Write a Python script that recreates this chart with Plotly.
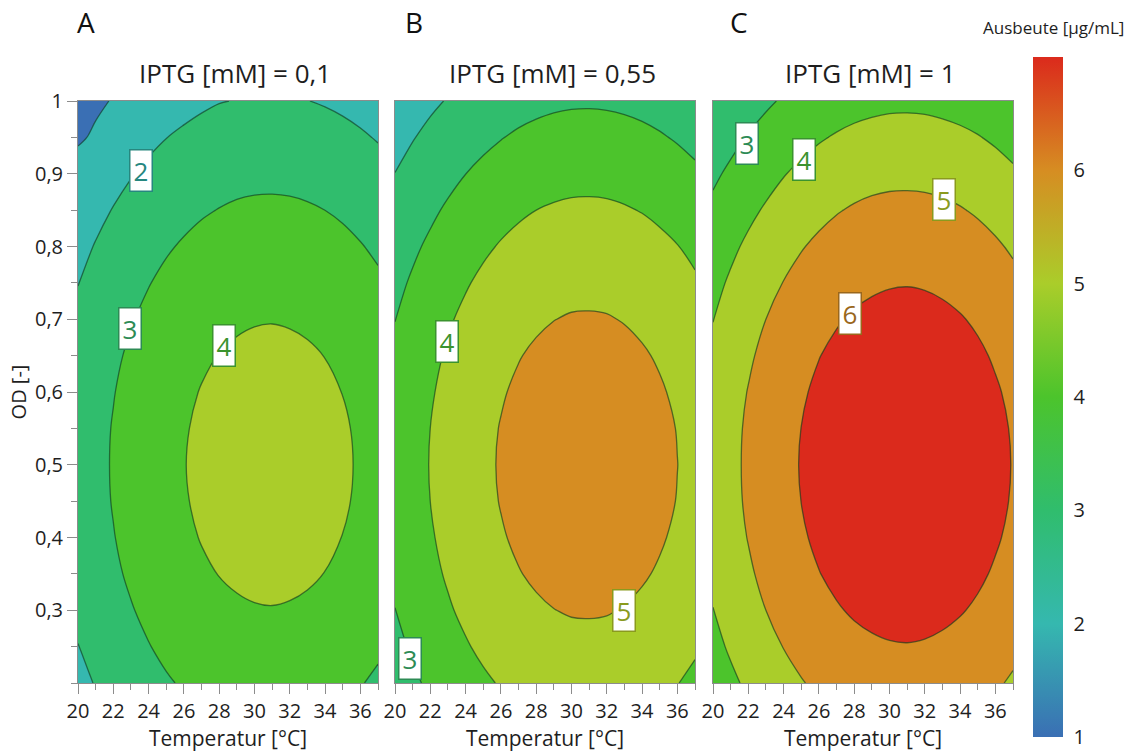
import plotly.graph_objects as go

# Grid of the response surface (temperature in degC, optical density)
temperature = [20, 21, 22, 23, 24, 25, 26, 27, 28, 29, 30, 31, 32, 33, 34, 35, 36, 37]
od = [0.2, 0.25, 0.3, 0.35, 0.4, 0.45, 0.5, 0.55, 0.6, 0.65, 0.7, 0.75, 0.8, 0.85, 0.9, 0.95, 1.0]

# Predicted yield [ug/mL]; one row per OD value (0.20 ... 1.00), one column per temperature
yield_iptg_01 = [
    [1.78, 2.04, 2.28, 2.52, 2.73, 2.92, 3.08, 3.22, 3.33, 3.41, 3.45, 3.46, 3.44, 3.39, 3.30, 3.19, 3.04, 2.87],
    [1.985, 2.25, 2.51, 2.75, 2.97, 3.17, 3.34, 3.49, 3.60, 3.68, 3.73, 3.74, 3.72, 3.66, 3.57, 3.45, 3.30, 3.12],
    [2.16, 2.44, 2.70, 2.95, 3.18, 3.39, 3.57, 3.71, 3.83, 3.91, 3.96, 3.976, 3.95, 3.90, 3.80, 3.68, 3.52, 3.34],
    [2.30, 2.58, 2.86, 3.12, 3.35, 3.56, 3.74, 3.90, 4.015, 4.10, 4.15, 4.16, 4.14, 4.08, 3.99, 3.86, 3.70, 3.51],
    [2.40, 2.69, 2.97, 3.23, 3.47, 3.69, 3.87, 4.03, 4.15, 4.24, 4.29, 4.30, 4.28, 4.22, 4.12, 3.99, 3.83, 3.63],
    [2.46, 2.76, 3.04, 3.31, 3.55, 3.76, 3.95, 4.11, 4.23, 4.32, 4.37, 4.38, 4.36, 4.30, 4.20, 4.07, 3.91, 3.71],
    [2.48, 2.78, 3.06, 3.33, 3.57, 3.79, 3.98, 4.13, 4.26, 4.35, 4.40, 4.41, 4.39, 4.33, 4.23, 4.10, 3.93, 3.74],
    [2.46, 2.76, 3.04, 3.31, 3.55, 3.76, 3.95, 4.11, 4.23, 4.32, 4.37, 4.38, 4.36, 4.30, 4.20, 4.07, 3.91, 3.71],
    [2.40, 2.69, 2.97, 3.23, 3.47, 3.69, 3.87, 4.03, 4.15, 4.24, 4.29, 4.30, 4.28, 4.22, 4.12, 3.99, 3.83, 3.63],
    [2.30, 2.58, 2.86, 3.12, 3.35, 3.56, 3.74, 3.90, 4.015, 4.10, 4.15, 4.16, 4.14, 4.08, 3.99, 3.86, 3.70, 3.51],
    [2.16, 2.44, 2.70, 2.95, 3.18, 3.39, 3.57, 3.71, 3.83, 3.91, 3.96, 3.976, 3.95, 3.90, 3.80, 3.68, 3.52, 3.34],
    [1.985, 2.25, 2.51, 2.75, 2.97, 3.17, 3.34, 3.49, 3.60, 3.68, 3.73, 3.74, 3.72, 3.66, 3.57, 3.45, 3.30, 3.12],
    [1.78, 2.04, 2.28, 2.52, 2.73, 2.92, 3.08, 3.22, 3.33, 3.41, 3.45, 3.46, 3.44, 3.39, 3.30, 3.19, 3.04, 2.87],
    [1.56, 1.80, 2.03, 2.25, 2.45, 2.63, 2.79, 2.92, 3.02, 3.10, 3.14, 3.15, 3.13, 3.08, 2.999, 2.89, 2.75, 2.59],
    [1.32, 1.54, 1.76, 1.96, 2.15, 2.32, 2.47, 2.59, 2.69, 2.76, 2.80, 2.81, 2.79, 2.74, 2.66, 2.56, 2.43, 2.28],
    [0.90, 1.10, 1.38, 1.66, 1.83, 1.99, 2.12, 2.24, 2.33, 2.40, 2.43, 2.44, 2.43, 2.38, 2.31, 2.21, 2.09, 1.95],
    [0.70, 0.88, 1.04, 1.35, 1.51, 1.65, 1.77, 1.88, 1.975, 2.02, 2.06, 2.07, 2.05, 2.01, 1.94, 1.85, 1.74, 1.61],
]
yield_iptg_055 = [
    [2.56, 2.86, 3.14, 3.41, 3.66, 3.87, 4.06, 4.22, 4.34, 4.43, 4.48, 4.49, 4.47, 4.41, 4.31, 4.18, 4.02, 3.82],
    [2.79, 3.10, 3.40, 3.68, 3.93, 4.16, 4.36, 4.52, 4.64, 4.74, 4.79, 4.80, 4.78, 4.72, 4.62, 4.48, 4.31, 4.10],
    [2.989, 3.31, 3.62, 3.91, 4.17, 4.40, 4.60, 4.77, 4.90, 4.99, 5.05, 5.06, 5.04, 4.97, 4.87, 4.73, 4.55, 4.34],
    [3.15, 3.48, 3.80, 4.09, 4.36, 4.59, 4.80, 4.97, 5.10, 5.20, 5.25, 5.27, 5.24, 5.18, 5.07, 4.93, 4.75, 4.53],
    [3.26, 3.60, 3.92, 4.22, 4.49, 4.73, 4.94, 5.11, 5.25, 5.35, 5.40, 5.42, 5.39, 5.33, 5.22, 5.07, 4.89, 4.67],
    [3.33, 3.68, 4.001, 4.30, 4.57, 4.82, 5.03, 5.20, 5.34, 5.44, 5.49, 5.51, 5.48, 5.41, 5.31, 5.16, 4.98, 4.76],
    [3.36, 3.70, 4.03, 4.33, 4.60, 4.85, 5.06, 5.23, 5.37, 5.47, 5.52, 5.54, 5.51, 5.45, 5.34, 5.19, 5.006, 4.79],
    [3.33, 3.68, 4.001, 4.30, 4.57, 4.82, 5.03, 5.20, 5.34, 5.44, 5.49, 5.51, 5.48, 5.41, 5.31, 5.16, 4.98, 4.76],
    [3.26, 3.60, 3.92, 4.22, 4.49, 4.73, 4.94, 5.11, 5.25, 5.35, 5.40, 5.42, 5.39, 5.33, 5.22, 5.07, 4.89, 4.67],
    [3.15, 3.48, 3.80, 4.09, 4.36, 4.59, 4.80, 4.97, 5.10, 5.20, 5.25, 5.27, 5.24, 5.18, 5.07, 4.93, 4.75, 4.53],
    [2.989, 3.31, 3.62, 3.91, 4.17, 4.40, 4.60, 4.77, 4.90, 4.99, 5.05, 5.06, 5.04, 4.97, 4.87, 4.73, 4.55, 4.34],
    [2.79, 3.10, 3.40, 3.68, 3.93, 4.16, 4.36, 4.52, 4.64, 4.74, 4.79, 4.80, 4.78, 4.72, 4.62, 4.48, 4.31, 4.10],
    [2.56, 2.86, 3.14, 3.41, 3.66, 3.87, 4.06, 4.22, 4.34, 4.43, 4.48, 4.49, 4.47, 4.41, 4.31, 4.18, 4.02, 3.82],
    [2.30, 2.58, 2.85, 3.11, 3.34, 3.55, 3.73, 3.88, 3.999, 4.08, 4.13, 4.14, 4.12, 4.06, 3.97, 3.84, 3.69, 3.50],
    [2.01, 2.28, 2.53, 2.77, 2.995, 3.19, 3.36, 3.51, 3.62, 3.70, 3.75, 3.76, 3.74, 3.68, 3.59, 3.47, 3.32, 3.14],
    [1.71, 1.96, 2.20, 2.42, 2.63, 2.81, 2.97, 3.11, 3.21, 3.29, 3.33, 3.34, 3.32, 3.27, 3.19, 3.07, 2.93, 2.77],
    [1.40, 1.63, 1.85, 2.05, 2.24, 2.41, 2.56, 2.69, 2.79, 2.86, 2.90, 2.91, 2.89, 2.84, 2.76, 2.66, 2.53, 2.37],
]
yield_iptg_1 = [
    [3.49, 3.83, 4.15, 4.44, 4.71, 4.95, 5.16, 5.33, 5.46, 5.56, 5.61, 5.63, 5.60, 5.53, 5.43, 5.29, 5.11, 4.89],
    [3.76, 4.11, 4.44, 4.74, 5.02, 5.27, 5.48, 5.66, 5.80, 5.89, 5.95, 5.97, 5.94, 5.87, 5.76, 5.62, 5.43, 5.21],
    [3.985, 4.35, 4.69, 5.001, 5.29, 5.54, 5.76, 5.94, 6.08, 6.18, 6.24, 6.25, 6.23, 6.16, 6.05, 5.90, 5.70, 5.48],
    [4.17, 4.54, 4.88, 5.21, 5.50, 5.75, 5.98, 6.16, 6.30, 6.41, 6.47, 6.48, 6.45, 6.38, 6.27, 6.12, 5.92, 5.69],
    [4.30, 4.68, 5.03, 5.35, 5.65, 5.91, 6.14, 6.32, 6.47, 6.57, 6.63, 6.65, 6.62, 6.55, 6.43, 6.28, 6.08, 5.85],
    [4.38, 4.76, 5.12, 5.44, 5.74, 6.005, 6.23, 6.42, 6.57, 6.67, 6.73, 6.75, 6.72, 6.65, 6.53, 6.37, 6.18, 5.94],
    [4.41, 4.79, 5.14, 5.47, 5.77, 6.04, 6.26, 6.45, 6.60, 6.70, 6.76, 6.78, 6.75, 6.68, 6.56, 6.41, 6.21, 5.97],
    [4.38, 4.76, 5.12, 5.44, 5.74, 6.005, 6.23, 6.42, 6.57, 6.67, 6.73, 6.75, 6.72, 6.65, 6.53, 6.37, 6.18, 5.94],
    [4.30, 4.68, 5.03, 5.35, 5.65, 5.91, 6.14, 6.32, 6.47, 6.57, 6.63, 6.65, 6.62, 6.55, 6.43, 6.28, 6.08, 5.85],
    [4.17, 4.54, 4.88, 5.21, 5.50, 5.75, 5.98, 6.16, 6.30, 6.41, 6.47, 6.48, 6.45, 6.38, 6.27, 6.12, 5.92, 5.69],
    [3.985, 4.35, 4.69, 5.001, 5.29, 5.54, 5.76, 5.94, 6.08, 6.18, 6.24, 6.25, 6.23, 6.16, 6.05, 5.90, 5.70, 5.48],
    [3.76, 4.11, 4.44, 4.74, 5.02, 5.27, 5.48, 5.66, 5.80, 5.89, 5.95, 5.97, 5.94, 5.87, 5.76, 5.62, 5.43, 5.21],
    [3.49, 3.83, 4.15, 4.44, 4.71, 4.95, 5.16, 5.33, 5.46, 5.56, 5.61, 5.63, 5.60, 5.53, 5.43, 5.29, 5.11, 4.89],
    [3.18, 3.50, 3.81, 4.09, 4.35, 4.58, 4.78, 4.95, 5.08, 5.17, 5.22, 5.23, 5.21, 5.15, 5.05, 4.91, 4.73, 4.53],
    [2.85, 3.15, 3.44, 3.71, 3.96, 4.18, 4.37, 4.53, 4.65, 4.74, 4.79, 4.80, 4.78, 4.72, 4.62, 4.49, 4.32, 4.12],
    [2.49, 2.77, 3.05, 3.30, 3.54, 3.74, 3.92, 4.07, 4.19, 4.27, 4.32, 4.33, 4.31, 4.25, 4.16, 4.04, 3.88, 3.69],
    [2.12, 2.38, 2.64, 2.87, 3.09, 3.28, 3.45, 3.59, 3.70, 3.78, 3.83, 3.84, 3.82, 3.76, 3.68, 3.56, 3.41, 3.24],
]

panel_letters = ["A", "B", "C"]
iptg_values = ["0,1", "0,55", "1"]
x_tick_values = [20, 22, 24, 26, 28, 30, 32, 34, 36]
y_tick_values = [0.3, 0.4, 0.5, 0.6, 0.7, 0.8, 0.9, 1.0]
colorbar_ticks = [1, 2, 3, 4, 5, 6]

# Contour labels: (panel, temperature, OD, level)
contour_labels = [
    (0, 23.57, 0.904, 2), (0, 22.95, 0.687, 3), (0, 28.28, 0.664, 4),
    (1, 22.95, 0.669, 4), (1, 32.99, 0.300, 5), (1, 20.85, 0.234, 3),
    (2, 21.90, 0.942, 3), (2, 25.15, 0.920, 4), (2, 33.10, 0.864, 5), (2, 27.77, 0.708, 6),
]

FONT = "Open Sans"
TEXT = "#1e1e1e"
W, H = 1134, 753

# Colour at each yield value 1..7
level_colors = ["#3a6fb4", "#35b8af", "#30bd6d", "#4cc42c", "#aacd2a", "#d68d22", "#db2a1c"]
label_colors = {2: "#26877f", 3: "#2d8b55", 4: "#3b932e", 5: "#8a9a1e", 6: "#9a671c"}

# continuous scale for the colour bar (1..7)
bar_scale = [[i / 6, c] for i, c in enumerate(level_colors)]
# stepped scale for the filled bands: band [L, L+1] takes the colour of level L+1
fill_scale = []
for k, c in enumerate(level_colors):
    fill_scale += [[k / 7, c], [(k + 0.75) / 7, c]]
fill_scale.append([1, level_colors[-1]])

x_domains = [[78 / W, 378 / W], [395 / W, 695 / W], [713 / W, 1013 / W]]
y_domain = [1 - 683 / H, 1 - 101 / H]
letter_x_px = [75, 403, 728]
axis_grey = "#8c8c8c"

fig = go.Figure()
surfaces = [yield_iptg_01, yield_iptg_055, yield_iptg_1]
for i, z in enumerate(surfaces):
    sfx = "" if i == 0 else str(i + 1)
    fig.add_trace(go.Contour(
        x=temperature, y=od, z=z,
        xaxis="x" + sfx, yaxis="y" + sfx,
        autocontour=False,
        contours=dict(start=1, end=7, size=1, coloring="fill", showlabels=False),
        colorscale=fill_scale, showscale=False,
        line=dict(color="rgba(15,55,30,0.62)", width=1.3, smoothing=1.0),
        hoverinfo="skip",
    ))

    fig.layout["xaxis" + sfx] = dict(
        domain=x_domains[i], range=[20, 37], anchor="y" + sfx,
        tickmode="array", tickvals=x_tick_values,
        ticks="outside", ticklen=10, tickcolor=axis_grey, tickwidth=1,
        minor=dict(tickmode="linear", tick0=20, dtick=1, ticks="outside",
                   ticklen=6, tickcolor=axis_grey, showgrid=False),
        showline=True, linecolor=axis_grey, linewidth=1, mirror=True,
        showgrid=False, zeroline=False,
        tickfont=dict(family=FONT, size=20, color=TEXT),
        title=dict(text="Temperatur [°C]", standoff=5,
                   font=dict(family=FONT, size=21, color=TEXT)),
    )
    yax = dict(
        domain=y_domain, range=[0.2, 1.0], anchor="x" + sfx,
        showline=True, linecolor=axis_grey, linewidth=1, mirror=True,
        showgrid=False, zeroline=False,
    )
    if i == 0:
        yax.update(
            tickmode="array", tickvals=y_tick_values,
            ticks="outside", ticklen=10, tickcolor=axis_grey, tickwidth=1,
            minor=dict(tickmode="linear", tick0=0.2, dtick=0.05, ticks="outside",
                       ticklen=6, tickcolor=axis_grey, showgrid=False),
            tickfont=dict(family=FONT, size=20, color=TEXT),
            title=dict(text="OD [-]", standoff=2,
                       font=dict(family=FONT, size=20, color=TEXT)),
        )
    else:
        yax.update(showticklabels=False, ticks="")
    fig.layout["yaxis" + sfx] = yax

# colour bar carried by an empty marker trace
fig.add_trace(go.Scatter(
    x=[None], y=[None], mode="markers", xaxis="x3", yaxis="y3",
    showlegend=False, hoverinfo="skip",
    marker=dict(color=[1], cmin=0.999, cmax=7, colorscale=bar_scale, showscale=True,
                colorbar=dict(
                    x=1033 / W, xanchor="left", xpad=0,
                    y=1 - 397 / H, yanchor="middle", ypad=0,
                    len=680, lenmode="pixels", thickness=30, thicknessmode="pixels",
                    outlinewidth=0, tickmode="array", tickvals=colorbar_ticks,
                    ticks="outside", ticklen=7, tickcolor="rgba(0,0,0,0)",
                    tickfont=dict(family=FONT, size=20, color=TEXT),
                )),
))

annotations = []
for i in range(3):
    sfx = "" if i == 0 else str(i + 1)
    annotations.append(dict(
        text=panel_letters[i], xref="paper", yref="paper",
        x=letter_x_px[i] / W, y=1 - 22 / H, xanchor="left", yanchor="middle",
        showarrow=False, font=dict(family=FONT, size=28, color="#111111"),
    ))
    annotations.append(dict(
        text="IPTG [mM] = " + iptg_values[i], xref="x" + sfx + " domain", yref="paper",
        x=0.5, y=1 - 73 / H, xanchor="center", yanchor="middle", xshift=7,
        showarrow=False, font=dict(family=FONT, size=26, color=TEXT),
    ))

for panel, t, o, level in contour_labels:
    sfx = "" if panel == 0 else str(panel + 1)
    col = label_colors[level]
    annotations.append(dict(
        text=str(level), xref="x" + sfx, yref="y" + sfx, x=t, y=o,
        xanchor="center", yanchor="middle", showarrow=False,
        width=17, height=36, borderpad=2, borderwidth=1.5,
        bgcolor="white", bordercolor=col,
        font=dict(family=FONT, size=26, color=col),
    ))

annotations.append(dict(
    text="Ausbeute [µg/mL]", xref="paper", yref="paper",
    x=1126 / W, y=1 - 28 / H, xanchor="right", yanchor="middle",
    showarrow=False, font=dict(family=FONT, size=17, color=TEXT),
))

fig.update_layout(
    width=W, height=H,
    margin=dict(l=0, r=0, t=0, b=0, pad=0, autoexpand=False),
    paper_bgcolor="white", plot_bgcolor="white",
    separators=",.",
    font=dict(family=FONT, color=TEXT),
    showlegend=False,
    annotations=annotations,
)

fig.write_html("out.html")
